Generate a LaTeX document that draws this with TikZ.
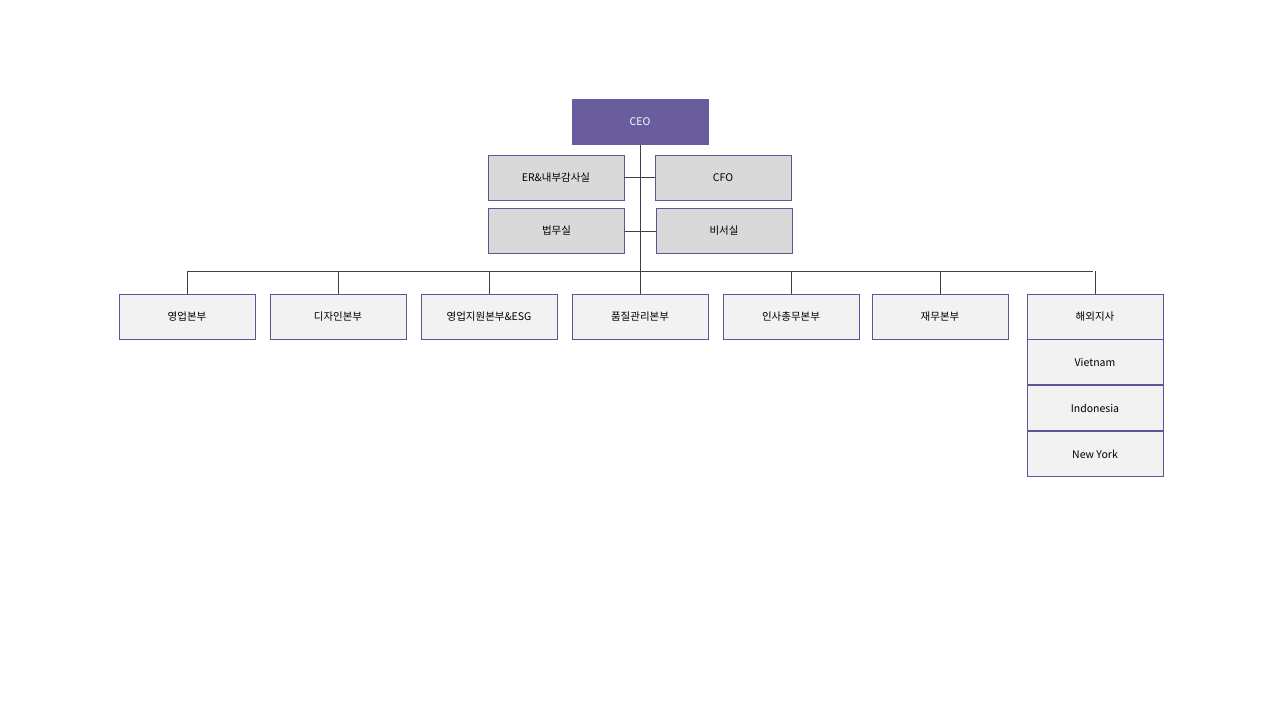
\documentclass[tikz,border=0pt]{standalone}
\usepackage{fontspec}
\setmainfont{Noto Sans CJK KR}
\usetikzlibrary{positioning}
\definecolor{ceofill}{RGB}{106,93,158}
\definecolor{boxline}{RGB}{96,84,150}
\definecolor{staffill}{RGB}{217,217,217}
\definecolor{unitfill}{RGB}{242,242,242}
\definecolor{linkgray}{RGB}{64,64,64}
\tikzset{
  orgbox/.style={draw=boxline, thick, minimum width=136pt, minimum height=45pt, inner sep=0pt, font=\fontsize{10.5}{12}\selectfont},
  staffbox/.style={orgbox, fill=staffill},
  unitbox/.style={orgbox, fill=unitfill},
  link/.style={draw=linkgray, thick}
}
\begin{document}
\begin{tikzpicture}[x=1pt, y=-1pt]
  \useasboundingbox (0,0) rectangle (1280,720);

  % CEO and staff
  \node[orgbox, fill=ceofill, draw=ceofill, text=white] (ceo) at (640,122) {CEO};
  \node[staffbox] (audit) at (556,177.5) {ER\&내부감사실};
  \node[staffbox] (cfo) at (723,177.5) {CFO};
  \node[staffbox] (legal) at (556.5,231) {법무실};
  \node[staffbox] (secr) at (724,231) {비서실};

  % Divisions
  \node[unitbox] (sales) at (187,317) {영업본부};
  \node[unitbox] (design) at (338,316.5) {디자인본부};
  \node[unitbox] (support) at (489,316.5) {영업지원본부\&ESG};
  \node[unitbox] (quality) at (640,316.5) {품질관리본부};
  \node[unitbox] (hr) at (791,317) {인사총무본부};
  \node[unitbox] (finance) at (940,316.5) {재무본부};
  \node[unitbox] (overseas) at (1095,316.5) {해외지사};
  \node[unitbox, below=0pt of overseas] (vietnam) {Vietnam};
  \node[unitbox, below=0pt of vietnam] (indonesia) {Indonesia};
  \node[unitbox, below=0pt of indonesia] (newyork) {New York};

  % Connectors
  \coordinate (busL) at (187,271);
  \coordinate (busR) at (1093,271);
  \coordinate (bus) at (640,271);
  \draw[link] (ceo.south) -- (bus);
  \draw[link] (busL) -- (busR);
  \draw[link] (audit.east) -- (cfo.west);
  \draw[link] (legal.east) -- (secr.west);
  \foreach \u in {sales,design,support,quality,hr,finance,overseas}
    \draw[link] (\u.north) -- (\u.north |- bus);
\end{tikzpicture}
\end{document}
